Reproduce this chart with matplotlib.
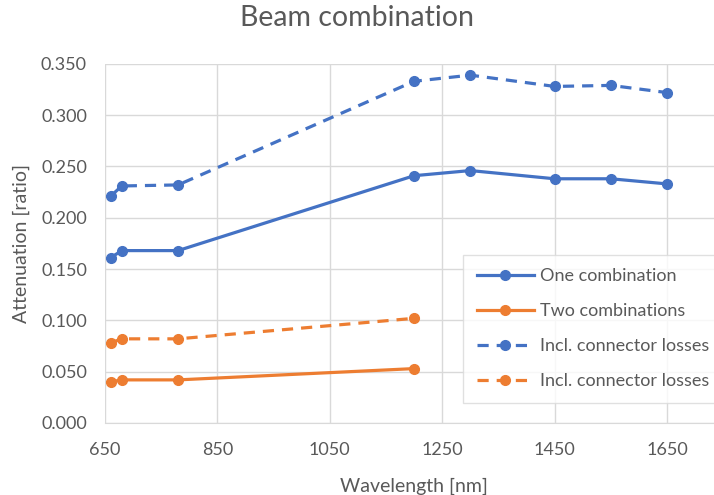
import matplotlib
matplotlib.use('Agg')
import matplotlib.pyplot as plt

plt.rcParams['font.family'] = ['Lato', 'DejaVu Sans']

wavelength = [660, 680, 780, 1200, 1300, 1450, 1550, 1650]
one_comb = [0.161, 0.168, 0.168, 0.241, 0.246, 0.238, 0.238, 0.233]
one_comb_conn = [0.221, 0.231, 0.232, 0.333, 0.339, 0.328, 0.329, 0.322]

wavelength_two = [660, 680, 780, 1200]
two_comb = [0.040, 0.042, 0.042, 0.053]
two_comb_conn = [0.078, 0.082, 0.082, 0.102]

x_ticks = [650, 850, 1050, 1250, 1450, 1650]
y_ticks = [0.0, 0.05, 0.10, 0.15, 0.20, 0.25, 0.30, 0.35]

blue = '#4472C4'
orange = '#ED7D31'
grey = '#595959'

fig = plt.figure(figsize=(7.14, 4.95), dpi=100)
ax = fig.add_axes([0.147, 0.1455, 0.866, 0.7255])

dash = (0, (3.5, 2.5))
ax.plot(wavelength, one_comb, color=blue, lw=2.3, marker='o', ms=7, label='One combination')
ax.plot(wavelength_two, two_comb, color=orange, lw=2.3, marker='o', ms=7, label='Two combinations')
ax.plot(wavelength, one_comb_conn, color=blue, lw=2.3, ls=dash, marker='o', ms=7,
        label='Incl. connector losses')
ax.plot(wavelength_two, two_comb_conn, color=orange, lw=2.3, ls=dash, marker='o', ms=7,
        label='Incl. connector losses')

ax.set_xlim(650, 1750)
ax.set_ylim(0, 0.35)
ax.set_xticks(x_ticks)
ax.set_yticks(y_ticks)
ax.set_yticklabels([f'{v:.3f}' for v in y_ticks])
ax.grid(True, color='#D9D9D9', lw=1)
ax.set_axisbelow(True)
for side in ['top', 'right', 'left']:
    ax.spines[side].set_visible(False)
ax.spines['bottom'].set_color('#D9D9D9')
ax.tick_params(length=0, labelsize=13, colors=grey)
ax.tick_params(axis='y', pad=13)
ax.tick_params(axis='x', pad=14)

ax.set_xlabel('Wavelength [nm]', fontsize=14, color=grey, labelpad=14)
ax.set_ylabel('Attenuation [ratio]', fontsize=14, color=grey, labelpad=8)
fig.suptitle('Beam combination', fontsize=20.5, color=grey, y=0.99)

leg = ax.legend(loc='lower left', bbox_to_anchor=(0.579, 0.056), fontsize=13, frameon=True,
                fancybox=False, edgecolor='#D9D9D9', handlelength=3.2, labelspacing=1.05,
                borderpad=0.75, handletextpad=0.3, borderaxespad=0)
leg.get_frame().set_linewidth(1)
for t in leg.get_texts():
    t.set_color(grey)

fig.savefig('out.png', dpi=100)
